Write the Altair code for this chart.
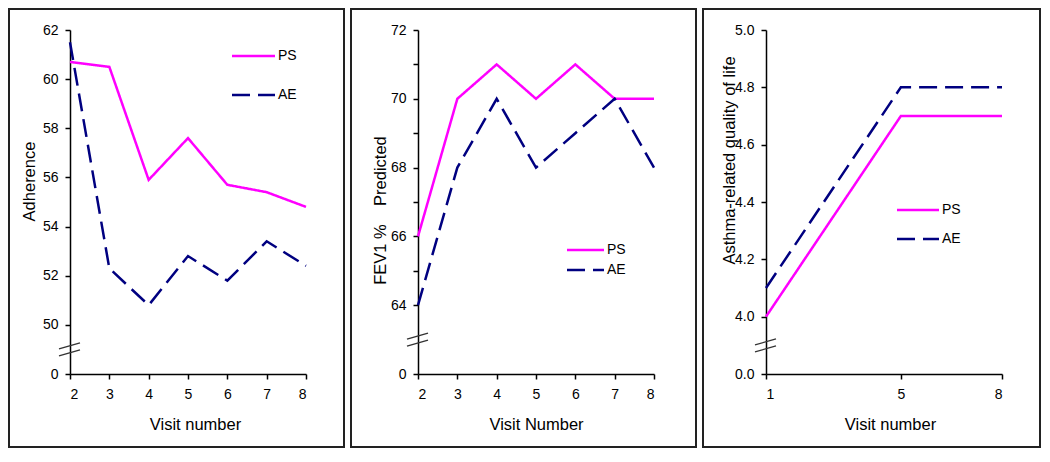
import altair as alt
import pandas as pd

# ---------------- data ----------------
groups = ["PS", "AE"]
colors = ["#FF00FF", "#000080"]
dashes = [[1, 0], [18, 8]]

visits_adh = [2, 3, 4, 5, 6, 7, 8]
adh_ps = [60.7, 60.5, 55.9, 57.6, 55.7, 55.4, 54.8]
adh_ae = [61.5, 52.3, 50.8, 52.8, 51.8, 53.4, 52.4]
adh_yticks = [48, 50, 52, 54, 56, 58, 60, 62]      # 48 stands for the broken "0"
adh_zero_at = 48

visits_fev = [2, 3, 4, 5, 6, 7, 8]
fev_ps = [66, 70, 71, 70, 71, 70, 70]
fev_ae = [64, 68, 70, 68, 69, 70, 68]
fev_yticks = [62, 64, 65, 66, 67, 68, 69, 70, 71, 72]  # 62 stands for the broken "0"
fev_zero_at = 62

visits_qol = [1, 5, 8]
qol_ps = [4.0, 4.7, 4.7]
qol_ae = [4.1, 4.8, 4.8]
qol_yticks = [3.8, 4.0, 4.2, 4.4, 4.6, 4.8, 5.0]        # 3.8 stands for the broken "0.0"
qol_zero_at = 3.8

W = 236
H = 344
TITLE_FONT = "Liberation Sans Narrow, Arial Narrow, Liberation Sans"
LABEL_FONT = "Liberation Sans"


def long_df(visits, ps, ae):
    rows = []
    for g, vals in zip(groups, [ps, ae]):
        for v, y in zip(visits, vals):
            rows.append({"visit": v, "value": y, "group": g})
    return pd.DataFrame(rows)


def panel(df, visits, xdomain, yticks, ydomain, zero_at, label_expr, yfmt,
          ytitle, ytitle_x, ytitle_y, xtitle, xtitle_x,
          leg_x0, leg_x1, leg_ys, border):
    yenc = alt.Y(
        "value:Q",
        scale=alt.Scale(domain=ydomain, nice=False, zero=False),
        axis=alt.Axis(values=yticks, labelExpr=label_expr, format=yfmt,
                      title=ytitle, titleX=ytitle_x, titleY=ytitle_y,
                      titleAngle=270, titleBaseline="middle", titleAlign="center",
                      labelPadding=7),
    )
    xenc = alt.X(
        "visit:Q",
        scale=alt.Scale(domain=xdomain, nice=False, zero=False),
        axis=alt.Axis(values=visits, format="d", title=xtitle, titleX=xtitle_x,
                      titleY=55, titleBaseline="alphabetic", labelPadding=8),
    )
    lines = alt.Chart(df).mark_line(strokeWidth=2.5, strokeCap="butt").encode(
        x=xenc,
        y=yenc,
        color=alt.Color("group:N", scale=alt.Scale(domain=groups, range=colors), legend=None),
        strokeDash=alt.StrokeDash("group:N", scale=alt.Scale(domain=groups, range=dashes), legend=None),
        detail="group:N",
    )
    brk_val = (zero_at + yticks[1]) / 2
    brk_data = alt.Data(values=[{"value": brk_val}])
    brk1 = alt.Chart(brk_data).mark_rule(color="#333", strokeWidth=1.2,
                                         yOffset=-0.5, y2Offset=-6.5).encode(
        x=alt.value(-11), x2=alt.value(10), y=yenc, y2="value:Q")
    brk2 = alt.Chart(brk_data).mark_rule(color="#333", strokeWidth=1.2,
                                         yOffset=6.5, y2Offset=0.5).encode(
        x=alt.value(-11), x2=alt.value(10), y=yenc, y2="value:Q")
    layers = [lines, brk1, brk2]
    for g, c, d, ly in zip(groups, colors, dashes, leg_ys):
        ld = alt.Data(values=[{"group": g}])
        layers.append(alt.Chart(ld).mark_rule(color=c, strokeDash=d, strokeWidth=2.5,
                                              strokeCap="butt").encode(
            x=alt.value(leg_x0), x2=alt.value(leg_x1), y=alt.value(ly)))
        layers.append(alt.Chart(ld).mark_text(align="left", baseline="middle", fontSize=14,
                                              font=LABEL_FONT, color="black").encode(
            x=alt.value(leg_x1 + 3), y=alt.value(ly), text="group:N"))
    bx0, bx1, by0, by1 = border
    frame = alt.Chart(alt.Data(values=[{"k": 1}])).mark_rect(
        filled=False, color="#222", strokeWidth=2).encode(
        x=alt.value(bx0), x2=alt.value(bx1), y=alt.value(by0), y2=alt.value(by1))
    layers.append(frame)
    return alt.layer(*layers).properties(width=W, height=H)


p1 = panel(long_df(visits_adh, adh_ps, adh_ae), visits_adh, [2, 8], adh_yticks,
           [adh_yticks[0], adh_yticks[-1]], adh_zero_at,
           f"datum.value == {adh_zero_at} ? '0' : datum.label", "d",
           "Adherence", -41, 151, "Visit number", 125,
           162, 205, [26, 65], (-61, 274, -21, 417))

p2 = panel(long_df(visits_fev, fev_ps, fev_ae), visits_fev, [2, 8], fev_yticks,
           [fev_yticks[0], fev_yticks[-1]], fev_zero_at,
           f"datum.value == {fev_zero_at} ? '0' : (datum.value % 2 == 0 ? datum.label : '')", "d",
           "FEV1 %\u00a0\u00a0\u00a0\u00a0Predicted", -38, 180, "Visit Number", 118,
           149, 186, [220, 240], (-67, 278, -21, 417))

p3 = panel(long_df(visits_qol, qol_ps, qol_ae), visits_qol, [1, 8], qol_yticks,
           [qol_yticks[0], qol_yticks[-1]], qol_zero_at,
           f"abs(datum.value - {qol_zero_at}) < 0.01 ? '0.0' : datum.label", ".1f",
           "Asthma-related quality of life", -37, 130, "Visit number", 124,
           131, 173, [180, 209], (-63, 274, -21, 417))

chart = alt.hconcat(p1, p2, p3, spacing=112, bounds="flush").properties(
    padding=0
).configure_view(stroke=None).configure_axis(
    labelFont=LABEL_FONT, labelFontSize=14, labelColor="black",
    titleFont=TITLE_FONT, titleFontSize=16.5, titleFontWeight="normal", titleColor="black",
    domainColor="black", domainWidth=1.5, tickColor="black", tickWidth=1.5, tickSize=5,
    grid=False,
)

chart.save("out.html", embed_options={"renderer": "svg", "actions": False})
